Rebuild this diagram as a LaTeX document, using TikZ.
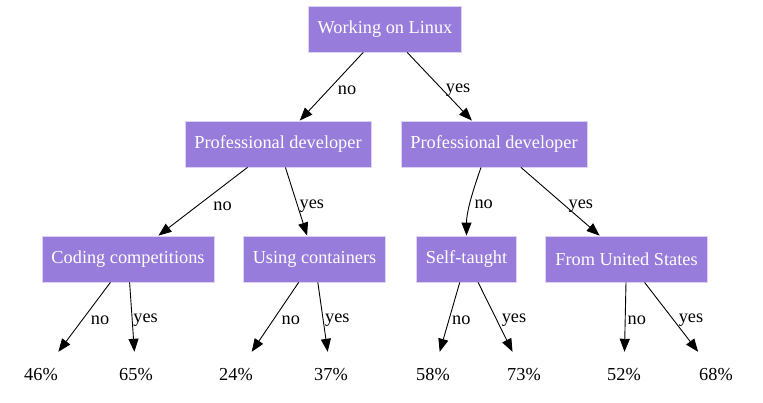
\documentclass[tikz,border=0pt]{standalone}
\usepackage{fontspec}
\setmainfont{Liberation Serif}
\usetikzlibrary{arrows.meta}
\definecolor{boxfill}{HTML}{977CDB}
\definecolor{boxline}{HTML}{DCD2F4}
\begin{document}
\begin{tikzpicture}[x=1pt,y=-1pt,
  every node/.style={font=\fontsize{18.3}{22}\selectfont},
  box/.style={fill=boxfill, draw=boxline, line width=0.8pt, text=white, minimum height=46pt, inner xsep=9.5pt, inner ysep=0pt},
  leaf/.style={minimum height=46pt, minimum width=54pt, inner sep=0pt, text=black},
  arr/.style={-{Triangle[length=13pt,width=10pt]}, line width=0.9pt},
  lbl/.style={anchor=west, inner sep=0pt, pos=0.5},
  lbltop/.style={lbl, yshift=-4pt},
  lblmid/.style={lbl, yshift=-5pt},
  lblbot/.style={lbl, yshift=-3pt}
]
\useasboundingbox (0,0) rectangle (763,403);
\node[box] (root) at (385,29) {Working on Linux};
\node[box] (pdl) at (278,144) {Professional developer};
\node[box] (pdr) at (494,144) {Professional developer};
\node[box] (cc) at (128,259) {Coding competitions};
\node[box] (uc) at (314.5,259) {Using containers};
\node[box] (st) at (466.5,259) {Self-taught};
\node[box] (fus) at (626.5,259) {From United States};
\node[leaf] (l1) at (41,375) {46\%};
\node[leaf] (l2) at (136,375) {65\%};
\node[leaf] (l3) at (236,375) {24\%};
\node[leaf] (l4) at (331,375) {37\%};
\node[leaf] (l5) at (433,375) {58\%};
\node[leaf] (l6) at (524,375) {73\%};
\node[leaf] (l7) at (624,375) {52\%};
\node[leaf] (l8) at (716,375) {68\%};

\draw[arr] (root) -- node[lbltop, xshift=6pt] {no} (pdl);
\draw[arr] (root) -- node[lbltop, xshift=6pt] {yes} (pdr);
\draw[arr] (pdl) -- node[lblmid, xshift=10pt] {no} (cc);
\draw[arr] (pdl) -- node[lblmid, xshift=3pt] {yes} (uc);
\draw[arr] ([xshift=-13pt]pdr.south) .. controls +(-7,20) and +(0,-25) .. node[lblmid, xshift=3pt] {no} (st.north);
\draw[arr] (pdr) -- node[lblmid, xshift=8pt] {yes} (fus);
\draw[arr] (cc) -- node[lblbot, xshift=6pt] {no} (l1);
\draw[arr] (cc) -- node[lblbot, xshift=1pt] {yes} (l2);
\draw[arr] (uc) -- node[lblbot, xshift=6pt] {no} (l3);
\draw[arr] (uc) -- node[lblbot, xshift=2pt] {yes} (l4);
\draw[arr] (st) -- node[lblbot, xshift=2pt] {no} (l5);
\draw[arr] (st) -- node[lblbot, xshift=6pt] {yes} (l6);
\draw[arr] (fus) -- node[lblbot, xshift=2pt] {no} (l7);
\draw[arr] (fus) -- node[lblbot, xshift=7pt] {yes} (l8);
\end{tikzpicture}
\end{document}
